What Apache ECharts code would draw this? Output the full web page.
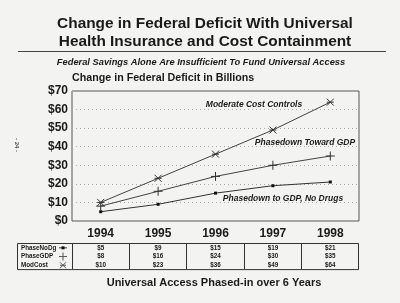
<!DOCTYPE html>
<html><head><meta charset="utf-8">
<script src="https://cdn.jsdelivr.net/npm/echarts@6/dist/echarts.min.js"></script>
<style>html,body{margin:0;padding:0;background:#f3f3f1}#c{width:400px;height:303px}</style>
</head><body><div id="c"></div>
<script>
var years = ['1994','1995','1996','1997','1998'];
var phaseNoDg = [5, 9, 15, 19, 21];
var phaseGDP = [8, 16, 24, 30, 35];
var modCost = [10, 23, 36, 49, 64];
var seriesNames = ['PhaseNoDg', 'PhaseGDP', 'ModCost'];
var yTicks = [0, 10, 20, 30, 40, 50, 60, 70];

var FONT = '"Liberation Sans", Arial, sans-serif';
var INK = '#1a1a1a';
var chart = echarts.init(document.getElementById('c'));
var starPath = 'path://M0,0L10,10M10,0L0,10M0,5L10,5';
var plusPath = 'path://M5,0L5,10M0,5L10,5';

var option = {
  backgroundColor: '#f3f3f1',
  animation: false,
  grid: {left: 72, right: 41, top: 91, bottom: 82, show: true, borderColor: '#555', borderWidth: 1, backgroundColor: 'transparent'},
  xAxis: {
    type: 'category', data: years, boundaryGap: true,
    axisLine: {show: false}, axisTick: {show: false},
    axisLabel: {color: INK, fontFamily: FONT, fontWeight: 'bold', fontSize: 12, margin: 7}
  },
  yAxis: {
    type: 'value', min: 0, max: 70, interval: 10,
    axisLine: {show: false}, axisTick: {show: false},
    axisLabel: {color: INK, fontFamily: FONT, fontWeight: 'bold', fontSize: 12, margin: 4,
      formatter: function (v) { return '$' + v; }},
    splitLine: {show: true, lineStyle: {color: '#aaa', type: [1, 3], width: 1}}
  },
  series: [
    {name: seriesNames[0], type: 'line', data: phaseNoDg, symbol: 'rect', symbolSize: 3,
      lineStyle: {color: '#333', width: 1}, itemStyle: {color: '#111'}},
    {name: seriesNames[1], type: 'line', data: phaseGDP, symbol: plusPath, symbolSize: 9,
      lineStyle: {color: '#444', width: 1}, itemStyle: {color: 'transparent', borderColor: '#333', borderWidth: 1}},
    {name: seriesNames[2], type: 'line', data: modCost, symbol: starPath, symbolSize: 7,
      lineStyle: {color: '#444', width: 1}, itemStyle: {color: 'transparent', borderColor: '#333', borderWidth: 1}}
  ]
};
chart.setOption(option);

// Build titles, annotations and data table
var g = [];
function txt(x, y, s, size, opts) {
  opts = opts || {};
  g.push({type: 'text', x: x, y: y, rotation: opts.rot || 0, silent: true,
    style: {text: s, fill: opts.fill || INK, font: (opts.italic ? 'italic ' : '') + 'bold ' + size + 'px ' + FONT,
      textAlign: opts.align || 'center', textVerticalAlign: 'middle'}});
}
txt(205, 24, 'Change in Federal Deficit With Universal', 15.4);
txt(205, 42, 'Health Insurance and Cost Containment', 15.4);
g.push({type: 'line', silent: true, shape: {x1: 18, y1: 51.5, x2: 386, y2: 51.5}, style: {stroke: '#444', lineWidth: 1}});
txt(201, 62, 'Federal Savings Alone Are Insufficient To Fund Universal Access', 9.3, {italic: true});
txt(72, 78, 'Change in Federal Deficit in Billions', 10.7, {align: 'left'});
txt(254, 105, 'Moderate Cost Controls', 8.5, {italic: true});
txt(305, 143, 'Phasedown Toward GDP', 8.5, {italic: true});
txt(283, 199, 'Phasedown to GDP, No Drugs', 8.5, {italic: true});
txt(214, 283, 'Universal Access Phased-in over 6 Years', 11);
txt(17, 145, '- 24 -', 6, {rot: -Math.PI / 2, fill: '#555'});

// Table
var tTop = 243, rowH = 8.7, tLeft = 17, tRight = 358, labelRight = 72;
var tBottom = tTop + rowH * 3;
g.push({type: 'rect', silent: true, shape: {x: tLeft + 0.5, y: tTop + 0.5, width: tRight - tLeft, height: tBottom - tTop},
  style: {fill: 'transparent', stroke: '#333', lineWidth: 1}});
var colW = (tRight - labelRight) / years.length;
for (var i = 0; i <= years.length - 1; i++) {
  var xb = Math.round(labelRight + colW * i) + 0.5;
  g.push({type: 'line', silent: true, shape: {x1: xb, y1: tTop, x2: xb, y2: tBottom}, style: {stroke: '#333', lineWidth: 1}});
}
var tableData = [phaseNoDg, phaseGDP, modCost];
for (var r = 0; r < 3; r++) {
  var yc = tTop + rowH * r + rowH / 2 + 0.5;
  txt(21, yc, seriesNames[r], 6.3, {align: 'left'});
  for (var c = 0; c < years.length; c++) {
    var xc = chart.convertToPixel({xAxisIndex: 0}, years[c]);
    txt(xc, yc, '$' + tableData[r][c], 6.3);
  }
}
// legend swatches in table
var sx = 63;
var y0 = tTop + rowH * 0.5 + 0.5, y1 = tTop + rowH * 1.5 + 0.5, y2 = tTop + rowH * 2.5 + 0.5;
g.push({type: 'line', silent: true, shape: {x1: sx - 4, y1: y0, x2: sx + 4, y2: y0}, style: {stroke: '#333', lineWidth: 1}});
g.push({type: 'rect', silent: true, shape: {x: sx - 1.5, y: y0 - 1.5, width: 3, height: 3}, style: {fill: '#111'}});
g.push({type: 'line', silent: true, shape: {x1: sx - 4, y1: y1, x2: sx + 4, y2: y1}, style: {stroke: '#555', lineWidth: 1}});
g.push({type: 'line', silent: true, shape: {x1: sx, y1: y1 - 4, x2: sx, y2: y1 + 4}, style: {stroke: '#555', lineWidth: 1}});
g.push({type: 'polyline', silent: true, shape: {points: [[sx - 3, y2 - 3], [sx + 3, y2 + 3]]}, style: {stroke: '#555', lineWidth: 1}});
g.push({type: 'polyline', silent: true, shape: {points: [[sx + 3, y2 - 3], [sx - 3, y2 + 3]]}, style: {stroke: '#555', lineWidth: 1}});
g.push({type: 'polyline', silent: true, shape: {points: [[sx - 3, y2], [sx + 3, y2]]}, style: {stroke: '#555', lineWidth: 1}});

chart.setOption({graphic: {elements: g}});
</script>
</body></html>
